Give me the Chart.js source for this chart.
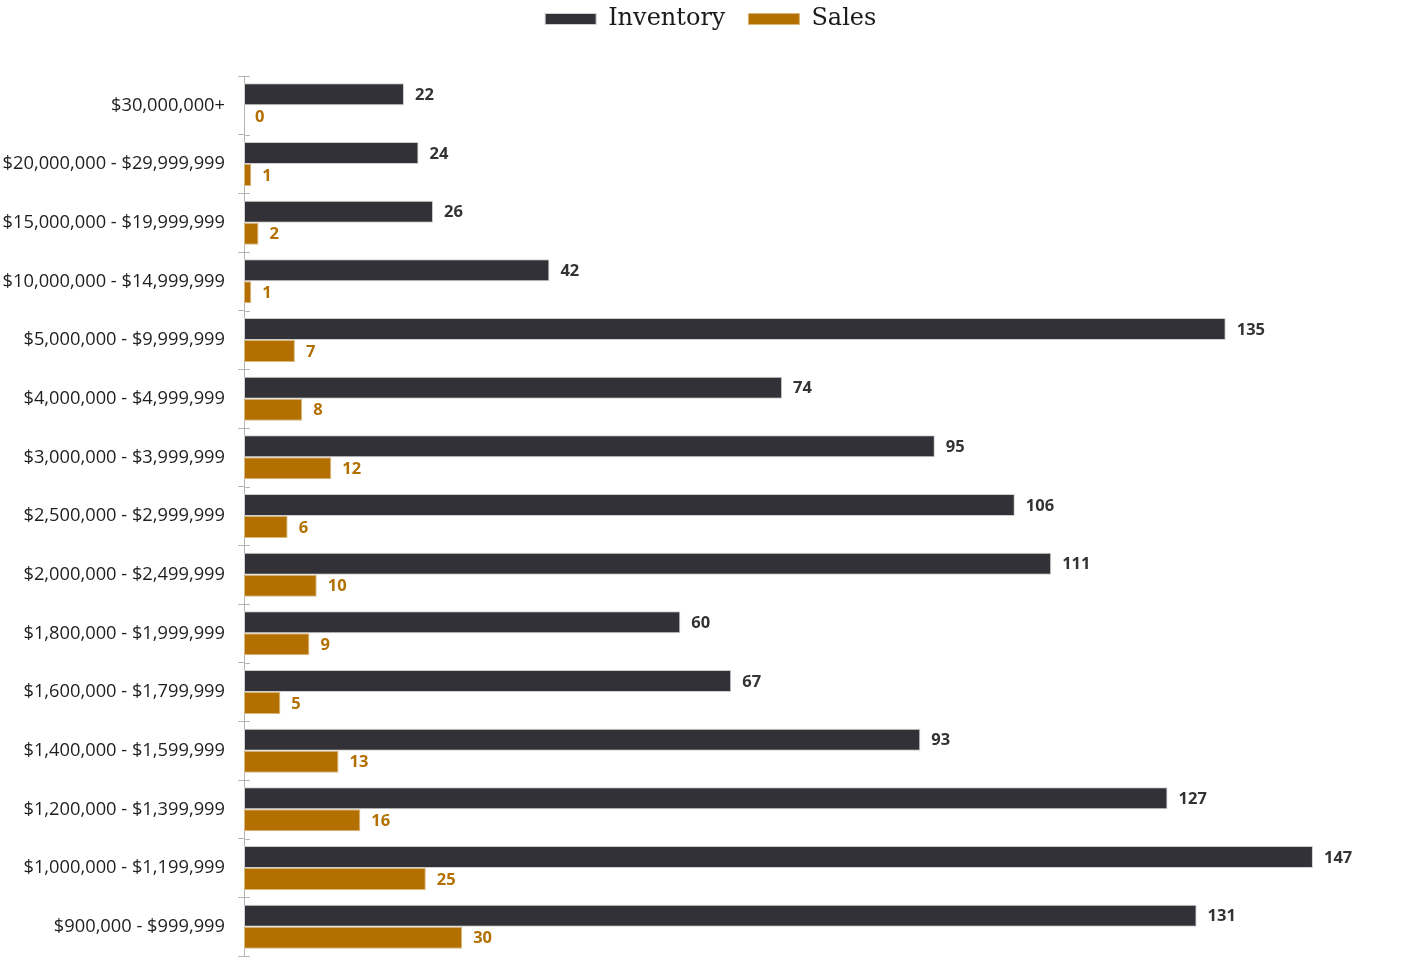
<!DOCTYPE html>
<html>
<head>
<meta charset="utf-8">
<script src="https://cdn.jsdelivr.net/npm/chart.js@4/dist/chart.umd.min.js"></script>
<style>
  html, body { margin: 0; padding: 0; background: #ffffff; }
  #wrap { width: 1424px; height: 959px; position: relative; }
</style>
</head>
<body>
<div id="wrap"><canvas id="c"></canvas></div>
<script>
const categories = [
  "$30,000,000+",
  "$20,000,000 - $29,999,999",
  "$15,000,000 - $19,999,999",
  "$10,000,000 - $14,999,999",
  "$5,000,000 - $9,999,999",
  "$4,000,000 - $4,999,999",
  "$3,000,000 - $3,999,999",
  "$2,500,000 - $2,999,999",
  "$2,000,000 - $2,499,999",
  "$1,800,000 - $1,999,999",
  "$1,600,000 - $1,799,999",
  "$1,400,000 - $1,599,999",
  "$1,200,000 - $1,399,999",
  "$1,000,000 - $1,199,999",
  "$900,000 - $999,999"
];
const inventory = [22, 24, 26, 42, 135, 74, 95, 106, 111, 60, 67, 93, 127, 147, 131];
const sales = [0, 1, 2, 1, 7, 8, 12, 6, 10, 9, 5, 13, 16, 25, 30];
const seriesNames = ["Inventory", "Sales"];

const DARK = "#323137";
const ORANGE = "#b36f00";

const legendSpace = {
  id: "legendSpace",
  beforeInit(chart) {
    const orig = chart.legend.fit;
    chart.legend.fit = function () {
      orig.call(this);
      this.height = 76;
    };
  },
  afterLayout(chart) {
    chart.legend.top -= 16;
    chart.legend.bottom -= 16;
    chart.legend.left += 7;
    chart.legend.right += 7;
  }
};

const barLabels = {
  id: "barLabels",
  afterDatasetsDraw(chart) {
    const ctx = chart.ctx;
    ctx.save();
    ctx.font = "bold 16.5px 'Open Sans'";
    ctx.textBaseline = "middle";
    ctx.textAlign = "left";
    chart.data.datasets.forEach((ds, di) => {
      const meta = chart.getDatasetMeta(di);
      ctx.fillStyle = di === 0 ? "#333333" : ORANGE;
      meta.data.forEach((el, i) => {
        ctx.fillText(String(ds.data[i]), el.x + 11, el.y + 1);
      });
    });
    ctx.restore();
  }
};

const crossTicks = {
  id: "crossTicks",
  afterDraw(chart) {
    const y = chart.scales.y;
    const ctx = chart.ctx;
    const n = y.ticks.length;
    const step = (y.bottom - y.top) / n;
    ctx.save();
    ctx.strokeStyle = "#b5b5b5";
    ctx.lineWidth = 1;
    for (let i = 0; i <= n; i++) {
      const py = Math.round(y.top + i * step) + 0.5;
      ctx.beginPath();
      ctx.moveTo(chart.chartArea.left, py);
      ctx.lineTo(chart.chartArea.left + 6, py);
      ctx.stroke();
    }
    ctx.restore();
  }
};

new Chart(document.getElementById("c"), {
  type: "bar",
  data: {
    labels: categories,
    datasets: [
      {
        label: seriesNames[0],
        data: inventory,
        backgroundColor: DARK,
        borderColor: "#cfcfcf",
        borderWidth: 1,
        borderSkipped: false,
        barPercentage: 1,
        categoryPercentage: 0.75
      },
      {
        label: seriesNames[1],
        data: sales,
        backgroundColor: ORANGE,
        borderColor: "#d9b77a",
        borderWidth: 1,
        borderSkipped: false,
        barPercentage: 1,
        categoryPercentage: 0.75
      }
    ]
  },
  options: {
    indexAxis: "y",
    responsive: true,
    maintainAspectRatio: false,
    animation: false,
    layout: { padding: { left: 0, right: 16.5, top: 0, bottom: 3 } },
    plugins: {
      tooltip: { enabled: false },
      legend: {
        position: "top",
        align: "center",
        labels: {
          boxWidth: 51,
          boxHeight: 11,
          padding: 23,
          color: "#1a1a1a",
          font: { family: "'DejaVu Serif'", size: 24 }
        }
      }
    },
    scales: {
      x: {
        type: "linear",
        display: false,
        min: 0,
        max: 160
      },
      y: {
        type: "category",
        offset: true,
        afterFit(scale) {
          scale.width = 244;
          scale.paddingTop = 0;
          scale.paddingBottom = 0;
        },
        border: { display: true, color: "#b5b5b5", width: 1 },
        grid: {
          display: true,
          drawOnChartArea: false,
          drawTicks: true,
          tickLength: 6,
          color: "#b5b5b5",
          offset: true
        },
        ticks: {
          color: "#1e1e1e",
          padding: 13,
          autoSkip: false,
          font: { family: "'Open Sans'", size: 18.3 }
        }
      }
    }
  },
  plugins: [legendSpace, barLabels, crossTicks]
});
</script>
</body>
</html>
